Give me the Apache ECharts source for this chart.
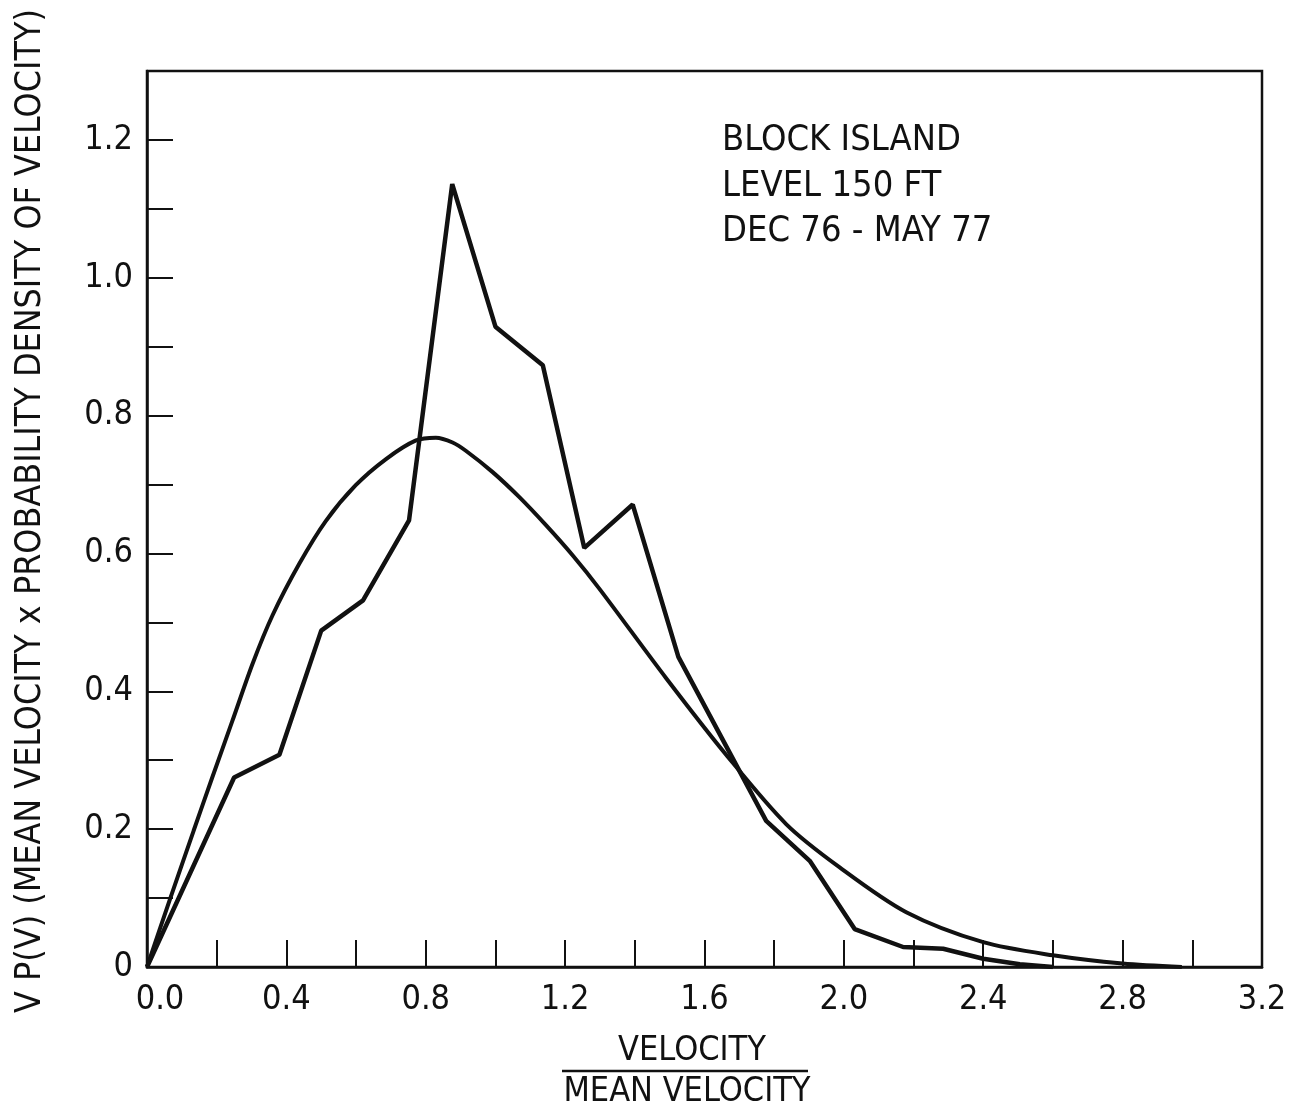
<!DOCTYPE html>
<html>
<head>
<meta charset="utf-8">
<title>Block Island velocity distribution</title>
<script src="https://cdn.jsdelivr.net/npm/echarts/dist/echarts.min.js"></script>
<style>
  html, body { margin: 0; padding: 0; background: #fff; }
  #chart { width: 1297px; height: 1112px; }
</style>
</head>
<body>
<div id="chart"></div>
<script>
// Measured distribution: [velocity / mean velocity, V·P(V)]
const measuredV = [0, 0.25, 0.38, 0.50, 0.62, 0.752, 0.876, 1.00, 1.136, 1.255, 1.394, 1.525, 1.777, 1.902, 2.031, 2.17, 2.285, 2.40, 2.505, 2.60];
const measuredP = [0, 0.275, 0.308, 0.488, 0.532, 0.648, 1.136, 0.929, 0.873, 0.608, 0.671, 0.450, 0.212, 0.154, 0.055, 0.029, 0.0265, 0.012, 0.004, 0];

// Fitted distribution curve
const fittedV = [0, 0.067, 0.134, 0.188, 0.245, 0.303, 0.36, 0.437, 0.513, 0.599, 0.686, 0.772, 0.829, 0.877, 0.915, 0.992, 1.068, 1.145, 1.222, 1.298, 1.49, 1.662, 1.835, 1.988, 2.179, 2.40, 2.60, 2.80, 2.97];
const fittedP = [0, 0.10, 0.198, 0.276, 0.357, 0.44, 0.51, 0.585, 0.647, 0.699, 0.737, 0.764, 0.768, 0.761, 0.749, 0.718, 0.682, 0.641, 0.597, 0.549, 0.419, 0.308, 0.207, 0.1445, 0.0795, 0.036, 0.017, 0.005, 0];

// Axis ranges and tick steps
const xMin = 0, xMax = 3.2, xStep = 0.2;
const yMin = 0, yMax = 1.3, yStep = 0.1;

// Annotation text
const noteLines = ['BLOCK ISLAND', 'LEVEL 150 FT', 'DEC 76 - MAY 77'];
const xTitleTop = 'VELOCITY';
const xTitleBottom = 'MEAN VELOCITY';
const yTitle = 'V P(V) (MEAN VELOCITY x PROBABILITY DENSITY OF VELOCITY)';

const FONT = "'Liberation Sans Narrow', 'DejaVu Sans Condensed', 'DejaVu Sans', sans-serif";
const INK = '#111';

const pairs = (xs, ys) => xs.map((x, i) => [x, ys[i]]);

const chart = echarts.init(document.getElementById('chart'), null, { renderer: 'canvas' });

const option = {
  backgroundColor: '#fff',
  animation: false,
  grid: {
    left: 147, top: 71, right: 35, bottom: 145,
    show: true, borderColor: INK, borderWidth: 2.5, backgroundColor: 'transparent'
  },
  xAxis: {
    type: 'value', min: xMin, max: xMax, interval: xStep,
    axisLine: { show: true, lineStyle: { color: INK, width: 2.5 } },
    axisTick: { show: true, inside: true, length: 27, lineStyle: { color: INK, width: 2 } },
    splitLine: { show: false },
    axisLabel: {
      color: INK, fontFamily: FONT, fontSize: 34, margin: 16,
      showMinLabel: true, showMaxLabel: true,
      formatter: v => {
        const t = Math.round(v * 10);
        if (t % 4 !== 0) return '';
        if (t === 0) return '{first|0.0}';
        return (t / 10).toFixed(1);
      },
      rich: { first: { color: INK, fontFamily: FONT, fontSize: 34, padding: [0, 0, 0, 26] } }
    }
  },
  yAxis: {
    type: 'value', min: yMin, max: yMax, interval: yStep,
    axisLine: { show: true, lineStyle: { color: INK, width: 2.5 } },
    axisTick: { show: true, inside: true, length: 26, lineStyle: { color: INK, width: 2 } },
    splitLine: { show: false },
    axisLabel: {
      color: INK, fontFamily: FONT, fontSize: 34, margin: 14,
      showMinLabel: true, showMaxLabel: true,
      formatter: v => {
        const t = Math.round(v * 10);
        if (t % 2 !== 0 || t > 12) return '';
        if (t === 0) return '0';
        return (t / 10).toFixed(1);
      }
    }
  },
  series: [
    {
      name: 'Measured', type: 'line', data: pairs(measuredV, measuredP),
      showSymbol: false, silent: true,
      lineStyle: { color: INK, width: 4.5 }
    },
    {
      name: 'Fitted', type: 'line', data: pairs(fittedV, fittedP),
      showSymbol: false, silent: true, smooth: 0.3,
      lineStyle: { color: INK, width: 4 }
    }
  ],
  graphic: [
    {
      type: 'group', left: 722, top: 123,
      children: noteLines.map((s, i) => ({
        type: 'text', x: 0, y: i * 45.5,
        style: { text: s, fill: INK, font: `36px ${FONT}`, textVerticalAlign: 'top' }
      }))
    },
    {
      type: 'text', x: 692, y: 1051,
      style: { text: xTitleTop, fill: INK, font: `34px ${FONT}`, textAlign: 'center', textVerticalAlign: 'middle' }
    },
    {
      type: 'line', shape: { x1: 562, y1: 1071, x2: 808, y2: 1071 },
      style: { stroke: INK, lineWidth: 2.5 }
    },
    {
      type: 'text', x: 687, y: 1092,
      style: { text: xTitleBottom, fill: INK, font: `34px ${FONT}`, textAlign: 'center', textVerticalAlign: 'middle' }
    },
    {
      type: 'text', rotation: Math.PI / 2, x: 31, y: 511,
      style: { text: yTitle, fill: INK, font: `35.5px ${FONT}`, textAlign: 'center', textVerticalAlign: 'middle' }
    }
  ]
};

chart.setOption(option);
</script>
</body>
</html>
